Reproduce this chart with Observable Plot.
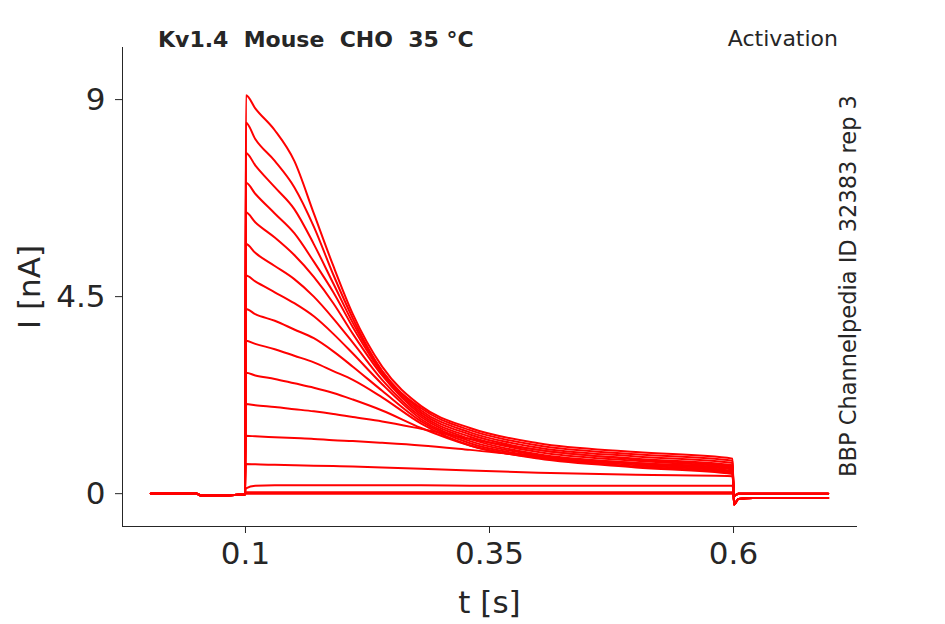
<!DOCTYPE html>
<html><head><meta charset="utf-8">
<script src="https://cdn.jsdelivr.net/npm/d3@7"></script>
<script src="https://cdn.jsdelivr.net/npm/@observablehq/plot@0.6"></script>
<style>body{margin:0;background:#fff}</style>
</head><body><div id="c"></div>
<script>
const stepTimes = [0.1005,0.11,0.13,0.15,0.17,0.19,0.21,0.24,0.28,0.33,0.4,0.5,0.599];
const traces = [
 [9.1,8.8,8.3,7.6,6.4,5.2,4.1,2.9,2.0,1.5,1.15,0.95,0.8],
 [8.47,8.1,7.6,7.0,6.1,5.0,4.0,2.8,1.95,1.45,1.1,0.9,0.75],
 [7.78,7.5,7.0,6.5,5.7,4.8,3.9,2.8,1.9,1.4,1.05,0.85,0.7],
 [7.1,6.85,6.4,5.95,5.3,4.6,3.8,2.75,1.85,1.35,1.0,0.8,0.65],
 [6.42,6.2,5.85,5.45,4.95,4.35,3.65,2.7,1.8,1.3,0.95,0.75,0.6],
 [5.7,5.5,5.2,4.9,4.5,4.0,3.45,2.6,1.75,1.25,0.9,0.7,0.55],
 [4.98,4.85,4.6,4.35,4.05,3.65,3.2,2.5,1.7,1.2,0.88,0.68,0.52],
 [4.22,4.1,3.95,3.75,3.55,3.25,2.9,2.35,1.65,1.15,0.85,0.65,0.5],
 [3.49,3.42,3.3,3.15,3.0,2.8,2.6,2.2,1.6,1.1,0.82,0.62,0.47],
 [2.76,2.7,2.62,2.52,2.42,2.3,2.15,1.9,1.5,1.1,0.8,0.6,0.45],
 [2.05,2.02,1.98,1.93,1.88,1.82,1.75,1.65,1.48,1.25,1.0,0.78,0.62],
 [1.32,1.31,1.29,1.27,1.25,1.22,1.2,1.16,1.1,1.0,0.85,0.7,0.58],
 [0.68,0.67,0.66,0.65,0.64,0.63,0.62,0.6,0.57,0.53,0.48,0.43,0.4],
 [0.12,0.18,0.19,0.19,0.19,0.19,0.19,0.19,0.19,0.18,0.18,0.18,0.18],
 [0.03,0.03,0.03,0.03,0.03,0.03,0.03,0.03,0.03,0.03,0.03,0.03,0.03],
 [0.0,0.0,0.0,0.0,0.0,0.0,0.0,0.0,0.0,0.0,0.0,0.0,0.0]
];
const preTimes = [0.003,0.05,0.055,0.0995];
const preValues = [0,0,-0.05,-0.02];
const postTimes = [0.6005,0.605,0.62,0.697];
const postValues = [[-0.25,-0.12,-0.1,-0.1],[-0.05,0,0,0]];
const xTicks = [0.1,0.35,0.6];
const yTicks = [0,4.5,9];

const rows = [];
traces.forEach((tr,i)=>{
  preTimes.forEach((t,j)=>rows.push({t,v:preValues[j],k:i}));
  stepTimes.forEach((t,j)=>rows.push({t,v:tr[j],k:i}));
  const pv = postValues[i<8?0:1];
  postTimes.forEach((t,j)=>rows.push({t,v:pv[j],k:i}));
});

const chart = Plot.plot({
  width:945, height:624,
  marginLeft:122, marginRight:89, marginTop:47, marginBottom:98,
  x:{domain:[-0.026,0.726]}, y:{domain:[-0.75,10.19]},
  style:{fontFamily:"DejaVu Sans", color:"#262626", background:"#fff"},
  marks:[
    Plot.frame({anchor:"left", stroke:"#262626"}),
    Plot.frame({anchor:"bottom", stroke:"#262626"}),
    Plot.line(rows,{x:"t",y:"v",z:"k",stroke:"red",strokeWidth:2,curve:"monotone-x"}),
    Plot.axisX({ticks:xTicks, tickFormat:d=>String(d), fontSize:31, tickSize:7, tickPadding:8, label:"t [s]", labelAnchor:"center", labelOffset:86, labelArrow:false}),
    Plot.axisY({ticks:yTicks, tickFormat:d=>String(d), fontSize:31, tickSize:7, tickPadding:10, label:"I [nA]", labelAnchor:"center", labelOffset:105, labelArrow:false})
  ]
});
document.getElementById("c").appendChild(chart);
const svg = d3.select(chart);
svg.selectAll("[aria-label='x-axis label'] text, [aria-label='y-axis label'] text, [aria-label='x-axis label'], [aria-label='y-axis label']").attr("font-size",31);
svg.append("text").attr("x",158).attr("y",47).attr("text-anchor","start").attr("font-size",22).attr("font-weight","bold").attr("font-family","DejaVu Sans").text("Kv1.4  Mouse  CHO  35 °C");
svg.append("text").attr("x",838).attr("y",46).attr("text-anchor","end").attr("font-size",22).attr("font-family","DejaVu Sans").text("Activation");
svg.append("text").attr("transform","translate(856,286) rotate(-90)").attr("text-anchor","middle").attr("font-size",22.5).attr("font-family","DejaVu Sans").text("BBP Channelpedia ID 32383 rep 3");
</script></body></html>
